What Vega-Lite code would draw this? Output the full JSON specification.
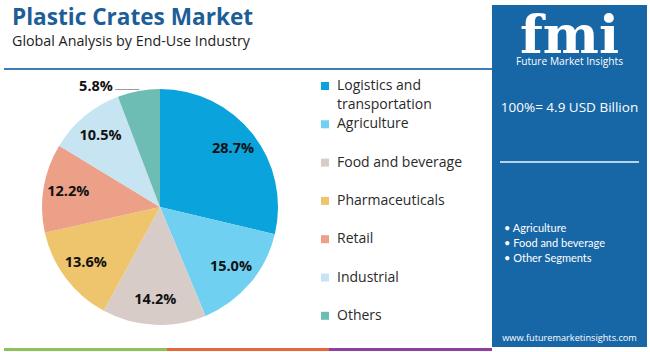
{
  "$schema": "https://vega.github.io/schema/vega-lite/v6.json",
  "padding": {"left": 4, "top": 0, "right": 3, "bottom": 0},
  "background": "white",
  "config": {"view": {"stroke": null}},
  "spacing": 0,
  "hconcat": [
    {
      "spacing": 0,
      "bounds": "flush",
      "vconcat": [
        {"width": 488, "height": 68, "view": {"fill": "white"}, "data": {"values": []}, "mark": "point", "encoding": {}},
        {
          "width": 488, "height": 2, "view": {"fill": "#3d7db7"},
          "title": {"text": "Plastic Crates Market", "subtitle": "Global Analysis by End-Use Industry", "anchor": "start", "frame": "group", "dx": 8, "offset": 19, "font": "Open Sans", "fontSize": 22.6, "fontWeight": "bold", "color": "#1c5e98", "subtitleFont": "Open Sans", "subtitleFontSize": 14.3, "subtitleColor": "#222222", "subtitlePadding": 5},
          "data": {"values": []}, "mark": "point", "encoding": {}
        },
        {
          "width": 312, "height": 274, "view": {"fill": "white"},
          "data": {"values": [
            {"segment": "Logistics and transportation", "share": 0.287},
            {"segment": "Agriculture", "share": 0.150},
            {"segment": "Food and beverage", "share": 0.142},
            {"segment": "Pharmaceuticals", "share": 0.136},
            {"segment": "Retail", "share": 0.122},
            {"segment": "Industrial", "share": 0.105},
            {"segment": "Others", "share": 0.058}
          ]},
          "encoding": {
            "theta": {"field": "share", "type": "quantitative", "stack": true},
            "order": {"field": "share", "type": "quantitative", "sort": "descending"}
          },
          "layer": [
            {
              "mark": {"type": "arc", "outerRadius": 118},
              "encoding": {
                "color": {
                  "field": "segment", "type": "nominal",
                  "scale": {
                    "domain": ["Logistics and transportation", "Agriculture", "Food and beverage", "Pharmaceuticals", "Retail", "Industrial", "Others"],
                    "range": ["#0aa3dc", "#6fd0f2", "#d8ccc9", "#eec56c", "#eca088", "#c6e4f2", "#6dbdb5"]
                  },
                  "legend": {
                    "title": null, "orient": "none", "legendX": 314, "legendY": 79, "padding": 0,
                    "symbolType": "square", "symbolSize": 64, "symbolStrokeWidth": 0,
                    "labelFont": "Open Sans", "labelFontSize": 14, "labelColor": "#2a2a2a", "labelOffset": 5,
                    "labelBaseline": "top", "labelLimit": 250, "gridAlign": "all", "rowPadding": 5.3,
                    "labelExpr": "datum.label == 'Logistics and transportation' ? ['Logistics and', 'transportation'] : datum.label",
                    "encode": {"labels": {"update": {"dy": {"value": -7}, "lineHeight": {"value": 19}}}}
                  }
                }
              }
            },
            {
              "mark": {"type": "text", "radius": 93, "font": "Open Sans", "fontWeight": "bold", "fontSize": 14.5, "color": "#111111"},
              "encoding": {
                "detail": {"field": "segment"},
                "text": {"condition": {"test": "datum.segment == 'Others'", "value": ""}, "field": "share", "type": "quantitative", "format": ".1%"}
              }
            },
            {
              "mark": {"type": "text", "radius": 122, "align": "right", "dx": -25, "font": "Open Sans", "fontWeight": "bold", "fontSize": 14.5, "color": "#111111"},
              "encoding": {
                "detail": {"field": "segment"},
                "text": {"condition": {"test": "datum.segment != 'Others'", "value": ""}, "field": "share", "type": "quantitative", "format": ".1%"}
              }
            },
            {
              "mark": {"type": "text", "radius": 120, "align": "right", "dx": 1, "font": "DejaVu Sans", "fontSize": 12, "color": "#9a9a9a"},
              "encoding": {
                "detail": {"field": "segment"},
                "text": {"condition": {"test": "datum.segment == 'Others'", "value": "――"}, "value": ""}
              }
            }
          ]
        },
        {"width": 488, "height": 4, "view": {"fill": "white"}, "data": {"values": []}, "mark": "point", "encoding": {}},
        {
          "spacing": 0, "bounds": "flush",
          "hconcat": [
            {"width": 163, "height": 3, "view": {"fill": "#8dc15a"}, "data": {"values": []}, "mark": "point", "encoding": {}},
            {"width": 162, "height": 3, "view": {"fill": "#e6663d"}, "data": {"values": []}, "mark": "point", "encoding": {}},
            {"width": 163, "height": 3, "view": {"fill": "#8e409e"}, "data": {"values": []}, "mark": "point", "encoding": {}}
          ]
        }
      ]
    },
    {
      "spacing": 0, "bounds": "flush",
      "vconcat": [
        {"width": 8, "height": 5, "view": {"fill": "white"}, "data": {"values": []}, "mark": "point", "encoding": {}},
        {"width": 8, "height": 342, "view": {"fill": "#1766a6"}, "data": {"values": []}, "mark": "point", "encoding": {}}
      ]
    },
    {
      "spacing": 0,
      "bounds": "flush",
      "vconcat": [
        {"width": 139, "height": 5, "view": {"fill": "white"}, "data": {"values": []}, "mark": "point", "encoding": {}},
        {"width": 139, "height": 58, "view": {"fill": "#1766a6"}, "data": {"values": []}, "mark": "point", "encoding": {}},
        {
          "width": 139, "height": 2, "view": {"fill": "#1766a6"},
          "data": {"values": [{"t": "fmi"}]},
          "mark": {"type": "text", "baseline": "bottom", "font": "DejaVu Serif", "fontWeight": "bold", "fontSize": 53, "color": "white"},
          "encoding": {"text": {"field": "t"}}
        },
        {"width": 139, "height": 1, "view": {"fill": "#1766a6"}, "data": {"values": []}, "mark": "point", "encoding": {}},
        {
          "width": 139, "height": 2, "view": {"fill": "#1766a6"},
          "data": {"values": [{"t": "Future Market Insights"}]},
          "mark": {"type": "text", "baseline": "bottom", "font": "Open Sans", "fontSize": 10.2, "color": "white"},
          "encoding": {"text": {"field": "t"}}
        },
        {"width": 139, "height": 46, "view": {"fill": "#1766a6"}, "data": {"values": []}, "mark": "point", "encoding": {}},
        {
          "width": 139, "height": 2, "view": {"fill": "#1766a6"},
          "data": {"values": [{"t": "100%= 4.9 USD Billion"}]},
          "mark": {"type": "text", "baseline": "bottom", "font": "Open Sans", "fontSize": 13.5, "color": "white"},
          "encoding": {"text": {"field": "t"}}
        },
        {"width": 139, "height": 45, "view": {"fill": "#1766a6"}, "data": {"values": []}, "mark": "point", "encoding": {}},
        {"width": 139, "height": 2, "view": {"fill": "#b5d3ec"}, "data": {"values": []}, "mark": "point", "encoding": {}},
        {"width": 139, "height": 58, "view": {"fill": "#1766a6"}, "data": {"values": []}, "mark": "point", "encoding": {}},
        {
          "width": 139, "height": 45, "view": {"fill": "#1766a6"},
          "data": {"values": [{"item": "• Agriculture"}, {"item": "• Food and beverage"}, {"item": "• Other Segments"}]},
          "mark": {"type": "text", "align": "left", "font": "Lato", "fontSize": 11, "color": "white"},
          "encoding": {
            "x": {"datum": 0, "type": "quantitative", "scale": {"domain": [0, 1], "padding": 4, "nice": false, "zero": false}, "axis": null},
            "y": {"field": "item", "type": "nominal", "sort": null, "axis": null, "scale": {"padding": 0.5}},
            "text": {"field": "item"}
          }
        },
        {"width": 139, "height": 76, "view": {"fill": "#1766a6"}, "data": {"values": []}, "mark": "point", "encoding": {}},
        {
          "width": 139, "height": 2, "view": {"fill": "#1766a6"},
          "data": {"values": [{"t": "www.futuremarketinsights.com"}]},
          "mark": {"type": "text", "baseline": "bottom", "font": "Open Sans", "fontSize": 9.2, "color": "white"},
          "encoding": {"text": {"field": "t"}}
        },
        {"width": 139, "height": 3, "view": {"fill": "#1766a6"}, "data": {"values": []}, "mark": "point", "encoding": {}}
      ]
    },
    {
      "spacing": 0, "bounds": "flush",
      "vconcat": [
        {"width": 8, "height": 5, "view": {"fill": "white"}, "data": {"values": []}, "mark": "point", "encoding": {}},
        {"width": 8, "height": 342, "view": {"fill": "#1766a6"}, "data": {"values": []}, "mark": "point", "encoding": {}}
      ]
    }
  ]
}
